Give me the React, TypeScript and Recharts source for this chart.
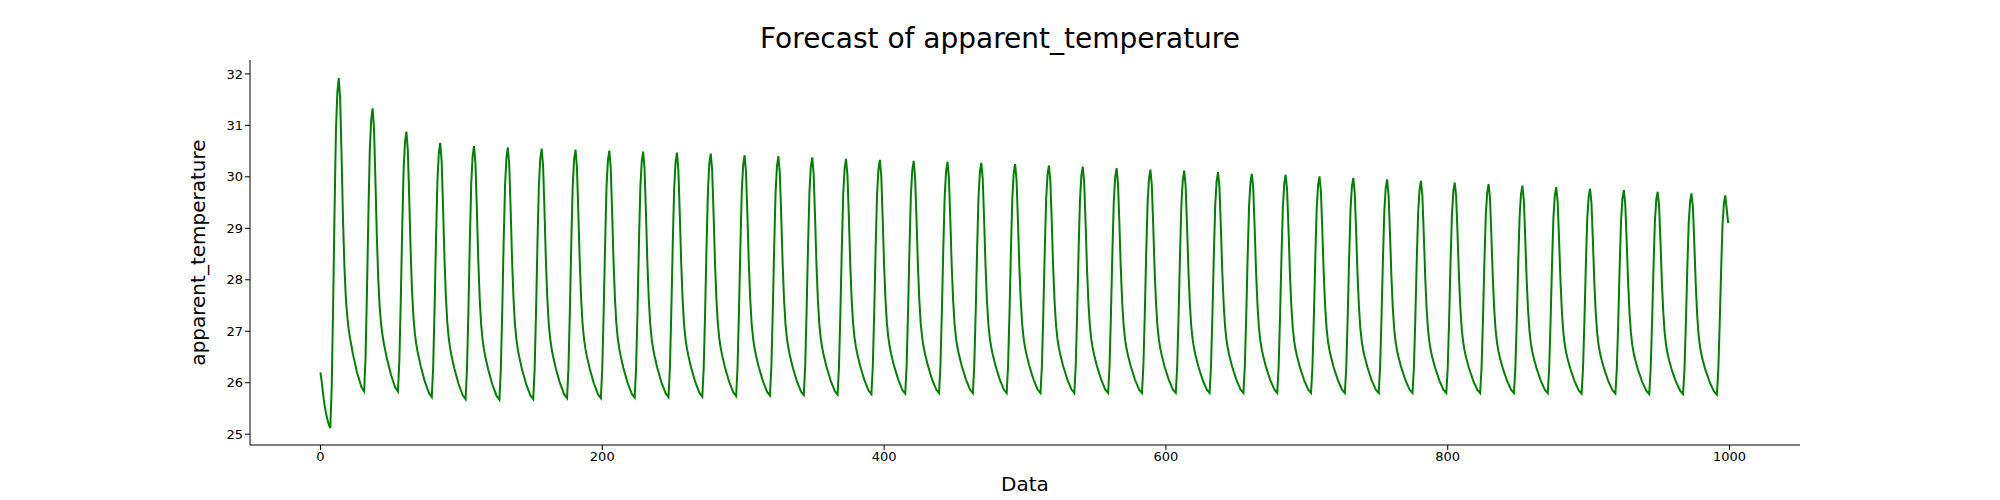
import { LineChart, Line, XAxis, YAxis, Label } from 'recharts'

// first points before the first trough (index 0..7)
const headValues = [26.2, 26.0, 25.75, 25.55, 25.4, 25.28, 25.18, 25.12]

// daily peaks, at index 13 + 24k
const peakValues = [
  31.92, 31.33, 30.88, 30.66, 30.6, 30.57, 30.55, 30.53, 30.51, 30.49,
  30.47, 30.45, 30.42, 30.4, 30.38, 30.35, 30.33, 30.31, 30.29, 30.27,
  30.25, 30.22, 30.2, 30.17, 30.14, 30.12, 30.09, 30.06, 30.04, 30.01,
  29.98, 29.95, 29.92, 29.89, 29.86, 29.83, 29.8, 29.77, 29.74, 29.71,
  29.68, 29.64,
]

// daily troughs, 6 steps before each peak
const troughValues = [
  25.12, 25.83, 25.83, 25.72, 25.68, 25.67, 25.68, 25.7, 25.7, 25.71,
  25.72, 25.73, 25.74, 25.75, 25.76, 25.77, 25.78, 25.79, 25.8, 25.8,
  25.8, 25.8, 25.8, 25.8, 25.8, 25.8, 25.8, 25.8, 25.8, 25.8,
  25.8, 25.8, 25.8, 25.8, 25.8, 25.8, 25.8, 25.79, 25.79, 25.78,
  25.78, 25.77, 25.77,
]

// shape of one day: rise (trough -> peak) and fall (peak -> next trough)
const riseShape = [0, 0.12, 0.35, 0.62, 0.85, 0.96]
const fallShape = [1, 0.93, 0.75, 0.55, 0.4, 0.3, 0.24, 0.2, 0.17, 0.145, 0.12, 0.1, 0.08, 0.06, 0.045, 0.03, 0.015, 0]

const lastValue = 29.1

const data: { x: number; y: number }[] = headValues.map((y, x) => ({ x, y }))
peakValues.forEach((p, k) => {
  const peakIdx = 13 + 24 * k
  const t0 = troughValues[k]
  const t1 = troughValues[k + 1]
  riseShape.forEach((f, j) => {
    const x = peakIdx - 6 + j
    if (x >= headValues.length) data.push({ x, y: t0 + f * (p - t0) })
  })
  fallShape.forEach((g, j) => {
    const x = peakIdx + j
    if (j < 17 && x < 999) data.push({ x, y: t1 + g * (p - t1) })
  })
})
data.push({ x: 999, y: lastValue })

const xTicks = [0, 200, 400, 600, 800, 1000]
const yTicks = [25, 26, 27, 28, 29, 30, 31, 32]

const font = 'DejaVu Sans'

export default function App() {
  return (
    <div style={{ margin: -8, width: 2000, height: 500, background: '#fff', position: 'relative', fontFamily: font }}>
      <div style={{ position: 'absolute', top: 22, width: 2000, textAlign: 'center', fontSize: 28, color: '#000' }}>
        Forecast of apparent_temperature
      </div>
      <LineChart width={2000} height={500} data={data} margin={{ top: 60, right: 200, bottom: 25, left: 190 }}>
        <XAxis dataKey="x" type="number" domain={[-50, 1050]} ticks={xTicks} allowDataOverflow
          stroke="#000" tick={{ fill: '#000', fontSize: 13, fontFamily: font }} tickSize={5} height={30}>
          <Label value="Data" position="bottom" offset={2} style={{ fontSize: 20, fill: '#000', fontFamily: font }} />
        </XAxis>
        <XAxis xAxisId="top" orientation="top" dataKey="x" type="number" domain={[-50, 1050]} tick={false} tickLine={false} stroke="#000" height={0} />
        <YAxis type="number" domain={[24.79, 32.27]} ticks={yTicks} allowDataOverflow width={60}
          stroke="#000" tick={{ fill: '#000', fontSize: 13, fontFamily: font }} tickSize={5}>
          <Label value="apparent_temperature" angle={-90} position="left" offset={-8} style={{ fontSize: 20, fill: '#000', fontFamily: font, textAnchor: 'middle' }} />
        </YAxis>
        <YAxis yAxisId="right" orientation="right" domain={[24.79, 32.27]} tick={false} tickLine={false} stroke="#000" width={0} />
        <Line dataKey="y" type="linear" stroke="#008000" strokeWidth={2} dot={false} isAnimationActive={false} />
      </LineChart>
    </div>
  )
}
